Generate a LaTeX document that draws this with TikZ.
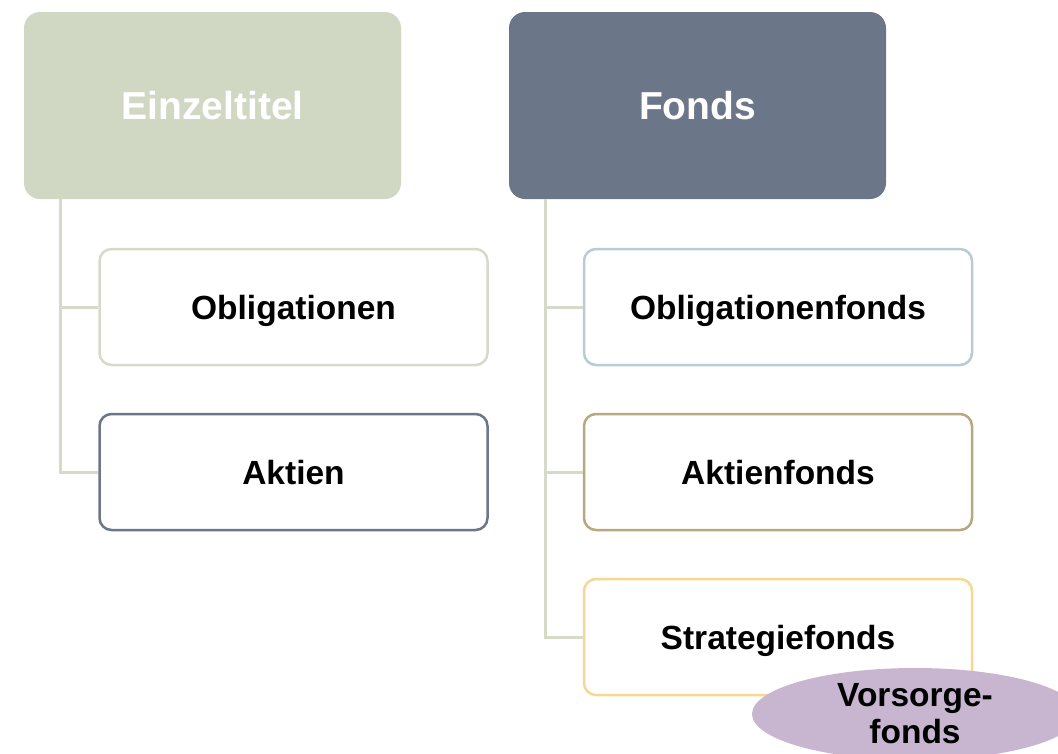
\documentclass[tikz,border=0pt]{standalone}
\usepackage{fontspec}
\setmainfont{Liberation Sans}
\usetikzlibrary{shapes.geometric}
\definecolor{sage}{HTML}{D0D8C3}
\definecolor{slate}{HTML}{6B7788}
\definecolor{linec}{HTML}{D5DBC8}
\definecolor{bluec}{HTML}{B9CAD8}
\definecolor{tanc}{HTML}{B8A882}
\definecolor{yelc}{HTML}{F6D892}
\definecolor{lilac}{HTML}{C8B5CF}
\tikzset{
  head/.style={rounded corners=16pt, minimum width=377pt, minimum height=187pt, inner sep=0pt,
    text height=28pt, text depth=0pt,
    text=white, font=\bfseries\fontsize{39}{44}\selectfont},
  item/.style={draw, line width=2.5pt, rounded corners=12pt, fill=white, minimum width=388pt,
    minimum height=116pt, inner sep=0pt, text height=24pt, text depth=0pt,
    font=\bfseries\fontsize{33.5}{37}\selectfont},
  conn/.style={draw=linec, line width=3pt},
}
\begin{document}
\begin{tikzpicture}[x=1pt,y=-1pt]
\useasboundingbox (0,0) rectangle (1058,753);
\clip (0,0) rectangle (1058,753);
\node[head, fill=sage] (E) at (212.5,105.5) {Einzeltitel};
\node[head, fill=slate] (F) at (697.5,105.5) {Fonds};
\node[item, draw=linec] (O) at (293.5,307) {Obligationen};
\node[item, draw=slate] (A) at (293.5,472) {Aktien};
\node[item, draw=bluec] (OF) at (778,307) {Obligationenfonds};
\node[item, draw=tanc] (AF) at (778,472) {Aktienfonds};
\node[item, draw=yelc] (SF) at (778,637) {Strategiefonds};
\draw[conn] ([xshift=37pt]E.south west) |- (O.west);
\draw[conn] ([xshift=37pt]E.south west) |- (A.west);
\draw[conn] ([xshift=37pt]F.south west) |- (OF.west);
\draw[conn] ([xshift=37pt]F.south west) |- (AF.west);
\draw[conn] ([xshift=37pt]F.south west) |- (SF.west);
\node[ellipse, fill=lilac, minimum width=326pt, minimum height=92pt, inner sep=0pt,
  align=center, font=\bfseries\fontsize{33.5}{37}\selectfont] (V) at (915,714) {Vorsorge-\\fonds};
\end{tikzpicture}
\end{document}
